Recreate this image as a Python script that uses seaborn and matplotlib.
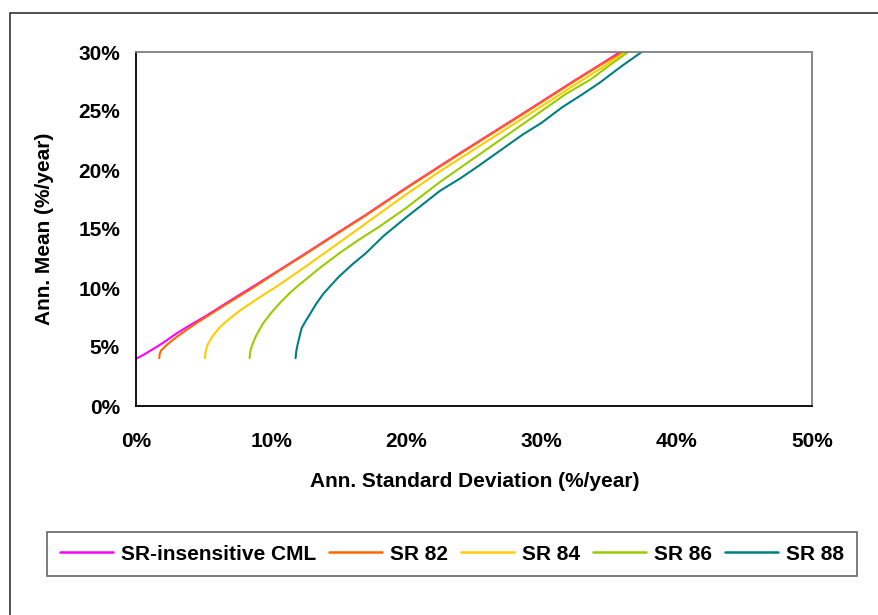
## IMPORTS
import pandas as pd
import matplotlib
matplotlib.use('Agg')
import matplotlib.pyplot as plt
from matplotlib.patches import Rectangle
from matplotlib.ticker import PercentFormatter
import seaborn as sns

## DATA (annualised standard deviation and mean, in %/year)
series_names = ['SR-insensitive CML', 'SR 82', 'SR 84', 'SR 86', 'SR 88']
series_colors = ['#FF00FF', '#FF6600', '#FFCC00', '#99CC00', '#008080']

cml_sd = [0.0, 0.5, 1.3, 2.0, 3.0, 4.0, 5.2, 7.0, 8.7, 10.5, 12.3, 14.6, 17.0,
          20.0, 22.5, 24.0, 26.0, 28.5, 30.0, 32.6, 34.5, 35.8]
cml_mean = [4.0, 4.3, 4.85, 5.35, 6.15, 6.85, 7.65, 8.95, 10.15, 11.45, 12.75, 14.45, 16.2,
            18.5, 20.35, 21.45, 22.9, 24.7, 25.8, 27.7, 29.05, 30.0]

sr82_sd = [1.72, 1.75, 1.85, 2.3, 3.0, 3.75, 4.5, 5.2, 6.5, 8.7, 10.5, 12.3, 14.6, 17.0,
           20.0, 22.5, 24.0, 26.0, 28.5, 30.0, 32.6, 34.5, 36.0]
sr82_mean = [4.05, 4.4, 4.7, 5.2, 5.85, 6.45, 7.05, 7.55, 8.5, 10.05, 11.4, 12.7, 14.4, 16.15,
             18.45, 20.3, 21.4, 22.85, 24.65, 25.75, 27.65, 29.0, 30.0]

sr84_sd = [5.1, 5.15, 5.3, 5.6, 6.1, 6.6, 7.7, 9.0, 10.5, 12.4, 15.1, 18.0, 20.0, 22.5,
           24.0, 27.0, 30.0, 32.3, 34.5, 36.2]
sr84_mean = [4.05, 4.6, 5.2, 5.8, 6.55, 7.1, 8.1, 9.1, 10.2, 11.7, 13.9, 16.3, 17.95, 19.9,
             21.0, 23.2, 25.4, 27.1, 28.7, 30.0]

sr86_sd = [8.4, 8.45, 8.6, 8.9, 9.4, 10.0, 10.7, 11.4, 12.1, 13.6, 15.1, 16.5, 18.0, 20.0,
           22.5, 24.0, 26.0, 28.0, 30.0, 31.8, 33.6, 35.0, 36.4]
sr86_mean = [4.05, 4.6, 5.2, 6.0, 7.0, 7.9, 8.8, 9.6, 10.3, 11.7, 13.0, 14.1, 15.2, 16.8,
             19.0, 20.2, 21.8, 23.4, 25.0, 26.45, 27.65, 28.85, 30.0]

sr88_sd = [11.8, 11.85, 11.95, 12.1, 12.25, 12.6, 12.9, 13.35, 13.85, 14.4, 15.0, 16.0, 17.0,
           18.3, 20.0, 22.5, 24.0, 25.4, 27.0, 28.6, 30.0, 31.5, 33.0, 34.3, 35.8, 37.4]
sr88_mean = [4.05, 4.6, 5.2, 5.9, 6.6, 7.3, 7.85, 8.7, 9.5, 10.2, 10.95, 12.0, 12.95,
             14.4, 16.0, 18.25, 19.3, 20.4, 21.7, 23.0, 24.0, 25.3, 26.4, 27.4, 28.7, 30.0]

x_ticks = [0, 10, 20, 30, 40, 50]
y_ticks = [0, 5, 10, 15, 20, 25, 30]

## BUILD LONG TABLE
frames = []
for name, sd, mean in zip(series_names,
                          [cml_sd, sr82_sd, sr84_sd, sr86_sd, sr88_sd],
                          [cml_mean, sr82_mean, sr84_mean, sr86_mean, sr88_mean]):
    frames.append(pd.DataFrame({'sd': sd, 'mean': mean, 'series': name}))
df = pd.concat(frames, ignore_index=True)

## PLOT
sns.set_style('white')
plt.rcParams['font.family'] = ['Liberation Sans', 'DejaVu Sans']
plt.rcParams['font.weight'] = 'bold'
for key in ['text.color', 'axes.labelcolor', 'xtick.color', 'ytick.color']:
    plt.rcParams[key] = 'black'

fig = plt.figure(figsize=(8.79, 6.15), dpi=100)
ax = fig.add_axes([136 / 879, 1 - 406 / 615, 676 / 879, 354 / 615])

sns.lineplot(data=df, x='sd', y='mean', hue='series', hue_order=series_names,
             palette=series_colors, estimator=None, sort=False, linewidth=1.5, ax=ax)

ax.set_xlim(0, 50)
ax.set_ylim(0, 30)
ax.set_xticks(x_ticks)
ax.set_yticks(y_ticks)
ax.xaxis.set_major_formatter(PercentFormatter(decimals=0))
ax.yaxis.set_major_formatter(PercentFormatter(decimals=0))
ax.tick_params(axis='both', direction='inout', length=10, width=1, color='black',
               labelcolor='black', labelsize=15)
ax.tick_params(axis='y', pad=6.5)
ax.tick_params(axis='x', pad=13.5)
for lab in ax.get_xticklabels() + ax.get_yticklabels():
    lab.set_fontweight('bold')

for side in ['left', 'bottom']:
    ax.spines[side].set_color('black')
    ax.spines[side].set_linewidth(1.3)
for side in ['top', 'right']:
    ax.spines[side].set_color('#808080')
    ax.spines[side].set_linewidth(1.3)

ax.set_xlabel('Ann. Standard Deviation (%/year)', fontsize=15, fontweight='bold', color='black')
ax.set_ylabel('Ann. Mean (%/year)', fontsize=15, fontweight='bold', color='black')
ax.xaxis.set_label_coords(0.501, -0.186)
ax.yaxis.set_label_coords(-0.122, 0.5)

# legend in a box under the chart
handles, labels = ax.get_legend_handles_labels()
ax.get_legend().remove()
leg = fig.legend(handles, labels, loc='center', ncol=5,
                 bbox_to_anchor=(452 / 879, 1 - 554 / 615),
                 prop={'size': 15, 'weight': 'bold'}, frameon=True, fancybox=False,
                 handlelength=2.55, handletextpad=0.4, columnspacing=0.6,
                 borderpad=0.6, edgecolor='#404040', labelcolor='black')
leg.get_frame().set_linewidth(1.2)
for line in leg.get_lines():
    line.set_linewidth(1.8)

# outer chart border (runs off the right and bottom edges)
fig.patches.append(Rectangle((10 / 879, -0.1), 1.2, 1 - 13 / 615 + 0.1,
                             transform=fig.transFigure, fill=False,
                             edgecolor='#333333', linewidth=1.2))

fig.savefig('out.png', dpi=100)
